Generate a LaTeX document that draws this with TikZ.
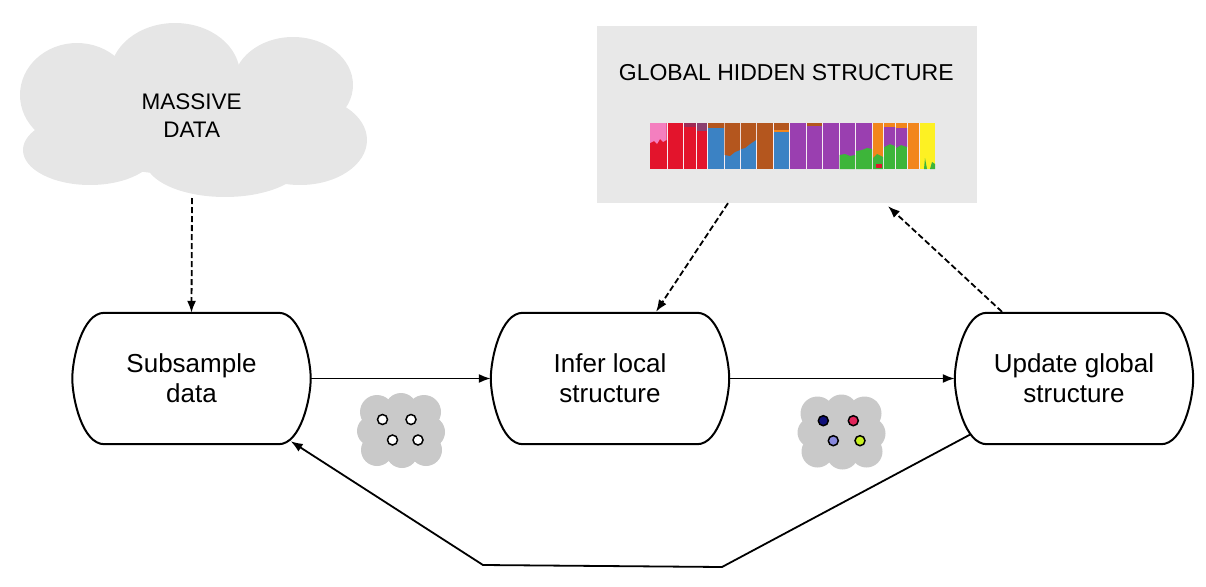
\documentclass[tikz,border=0pt]{standalone}
\usepackage{fontspec}
\setmainfont{Liberation Sans}
\usetikzlibrary{calc,arrows.meta}
\definecolor{cloudgray}{HTML}{E6E6E6}
\definecolor{minigray}{HTML}{C9C9C9}
\definecolor{globgray}{HTML}{E8E8E8}
\definecolor{barbg}{HTML}{F6ECF2}
\definecolor{cred}{HTML}{E3142C}
\definecolor{cpink}{HTML}{F47FBF}
\definecolor{cblue}{HTML}{3B82C4}
\definecolor{cbrown}{HTML}{B4561E}
\definecolor{cpurple}{HTML}{9A3FB0}
\definecolor{cgreen}{HTML}{3DB53A}
\definecolor{corange}{HTML}{F2861C}
\definecolor{cyellow}{HTML}{FDF123}
\definecolor{cdarkred}{HTML}{9E2A55}
\definecolor{cmauve}{HTML}{8C3F6F}
\definecolor{dnavy}{HTML}{10107A}
\definecolor{dcrimson}{HTML}{E0245A}
\definecolor{dlav}{HTML}{8888DD}
\definecolor{dlime}{HTML}{C8F020}
\newcommand\capsuleline[1]{%
  \draw[boxline] ($(#1.north west)+(32,0)$) -- ($(#1.north east)+(-32,0)$)
    .. controls +(22,0) and +(0,-20) .. (#1.east)
    .. controls +(0,20) and +(22,0) .. ($(#1.south east)+(-32,0)$)
    -- ($(#1.south west)+(32,0)$)
    .. controls +(-22,0) and +(0,20) .. (#1.west)
    .. controls +(0,-20) and +(-22,0) .. ($(#1.north west)+(32,0)$) -- cycle;}
\newcommand\minicloud[1]{%
  \begin{scope}[shift={#1}]
    \fill[minigray] (0,0) ellipse [x radius=37pt, y radius=30pt];
    \fill[minigray] (-24,-18) circle [radius=17pt];
    \fill[minigray] (0,-21) circle [radius=16pt];
    \fill[minigray] (23,-18) circle [radius=17pt];
    \fill[minigray] (28,2) circle [radius=16pt];
    \fill[minigray] (25,20) circle [radius=16pt];
    \fill[minigray] (1,22) circle [radius=16pt];
    \fill[minigray] (-24,20) circle [radius=16pt];
    \fill[minigray] (-29,1) circle [radius=15pt];
  \end{scope}}
\begin{document}
\begin{tikzpicture}[x=1pt,y=-1pt,
  capsule/.style={rectangle,draw=none,minimum width=238pt,minimum height=131pt,
    inner sep=0pt,align=center,font=\fontsize{26}{30}\selectfont},
  boxline/.style={line width=2pt,black},
  flow/.style={line width=1.8pt,-{Latex[length=12pt,width=9pt]}},
  dflow/.style={flow,dash pattern=on 6pt off 3pt},
  dot/.style={line width=1.5pt,draw=black}]
\useasboundingbox (0,0) rectangle (1206,586);

% big cloud
\fill[cloudgray] (77,95) ellipse [x radius=57pt, y radius=52pt];
\fill[cloudgray] (175,75) ellipse [x radius=65pt, y radius=52pt];
\fill[cloudgray] (293,85) ellipse [x radius=60pt, y radius=48pt];
\fill[cloudgray] (300,140) ellipse [x radius=67pt, y radius=45pt];
\fill[cloudgray] (90,150) ellipse [x radius=67pt, y radius=35pt];
\fill[cloudgray] (225,160) ellipse [x radius=80pt, y radius=37pt];
\fill[cloudgray] (190,120) ellipse [x radius=140pt, y radius=55pt];
\node[align=center,font=\fontsize{22.5}{27.7}\selectfont] (massive) at (191.7,115.8) {MASSIVE\\DATA};
\coordinate (cloudbot) at (192,198);

% global box
\node[rectangle,fill=globgray,minimum width=380pt,minimum height=177pt,inner sep=0pt] (glob) at (787,114.5) {};
\node[anchor=base,font=\fontsize{23}{27}\selectfont,inner sep=0pt] (gtitle) at (786.3,80.3) {GLOBAL HIDDEN STRUCTURE};

% bar chart
\fill[barbg] (650,123) rectangle (935,169);
\fill[cred] (650,123) rectangle (666.5,169);
\fill[cpink] (650,123) -- (666.5,123) -- (666.5,140) -- (663,142) -- (660,139) -- (657,144) -- (654,141) -- (650,143) -- cycle;
\fill[cred] (667.5,123) rectangle (682.5,169);
\fill[cred] (683.5,123) rectangle (695.5,169);
\fill[cdarkred] (683.5,123) rectangle (695.5,127);
\fill[cred] (696.5,123) rectangle (707,169);
\fill[cmauve] (696.5,123) rectangle (707,131);
\fill[cblue] (708,123) rectangle (723.5,169);
\fill[cbrown] (708,123) rectangle (723.5,128);
\fill[cblue] (724.5,123) rectangle (740,169);
\fill[cbrown] (724.5,123) -- (740,123) -- (740,150) -- (735,152) -- (730,156) -- (724.5,155) -- cycle;
\fill[cblue] (741,123) rectangle (756,169);
\fill[cbrown] (741,123) -- (756,123) -- (756,140) -- (750,144) -- (745,148) -- (741,149) -- cycle;
\fill[cbrown] (757,123) rectangle (772.5,169);
\fill[cblue] (773.5,123) rectangle (789,169);
\fill[cbrown] (773.5,123) rectangle (789,130);
\fill[corange] (773.5,130) rectangle (789,131.5);
\fill[cpurple] (790,123) rectangle (805.5,169);
\fill[cpurple] (806.5,123) rectangle (822,169);
\fill[cbrown] (806.5,123) rectangle (822,125.5);
\fill[cpurple] (823,123) rectangle (838.5,169);
\fill[cpurple] (839.5,123) rectangle (855,169);
\fill[cgreen] (839.5,169) -- (839.5,155) -- (845,154) -- (850,156) -- (855,155) -- (855,169) -- cycle;
\fill[cpurple] (856,123) rectangle (872,169);
\fill[cgreen] (856,169) -- (856,151) -- (862,150) -- (867,148) -- (872,149) -- (872,169) -- cycle;
\fill[corange] (873,123) rectangle (883,169);
\fill[cgreen] (873,169) -- (873,158) -- (877,154) -- (883,157) -- (883,169) -- cycle;
\fill[cred] (876,164) rectangle (882,168);
\fill[cgreen] (884,123) rectangle (895,169);
\fill[corange] (884,123) rectangle (895,127);
\fill[cpurple] (884,127) -- (895,127) -- (895,146) -- (890,144) -- (884,147) -- cycle;
\fill[cgreen] (896,123) rectangle (907,169);
\fill[corange] (896,123) rectangle (907,128);
\fill[cpurple] (896,128) -- (907,128) -- (907,147) -- (901,145) -- (896,148) -- cycle;
\fill[corange] (908,123) rectangle (918.5,169);
\fill[cyellow] (919.5,123) rectangle (935,169);
\fill[cgreen] (924,169) -- (925,158) -- (927,169) -- cycle;
\fill[cgreen] (930,169) -- (932,162) -- (935,164) -- (935,169) -- cycle;

% process boxes
\node[capsule] (sub) at (191.5,378.5) {Subsample\\data};
\node[capsule] (inf) at (610,378.5) {Infer local\\structure};
\node[capsule] (upd) at (1074,378.5) {Update global\\structure};
\capsuleline{sub}
\capsuleline{inf}
\capsuleline{upd}

% mini clouds
\minicloud{(401,430)}
\minicloud{(841.5,431.5)}
\foreach \p in {(382.5,419.5),(411,419.5),(392.5,440),(418,440)}
  \filldraw[dot,fill=white] \p circle [radius=5pt];
\filldraw[dot,fill=dnavy] (823.3,420.7) circle [radius=5pt];
\filldraw[dot,fill=dcrimson] (853.3,420.7) circle [radius=5pt];
\filldraw[dot,fill=dlav] (833.3,440.7) circle [radius=5pt];
\filldraw[dot,fill=dlime] (860,440.7) circle [radius=5pt];

% connectors
\draw[dflow] (cloudbot) -- (sub.north);
\draw[flow] (sub.east) -- (inf.west);
\draw[flow] (inf.east) -- (upd.west);
\draw[dflow] ($(glob.south)+(-59,0)$) -- ($(inf.north)+(46,-1)$);
\draw[dflow] ($(upd.north)+(-72,-1)$) -- ($(glob.south)+(101,3)$);
\draw[flow] ($(upd.south west)+(16,-10)$) -- (722,567) -- (483,565) -- ($(sub.south east)+(-20,-3)$);
\end{tikzpicture}
\end{document}
